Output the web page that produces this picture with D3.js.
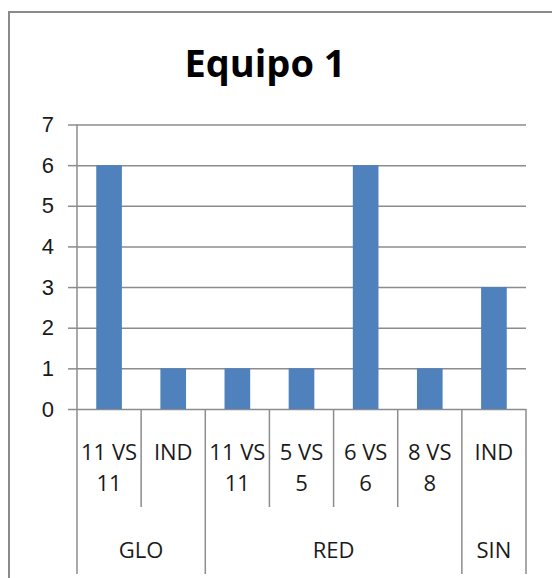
<!DOCTYPE html>
<html>
<head>
<meta charset="utf-8">
<script src="https://cdn.jsdelivr.net/npm/d3@7"></script>
<style>
  body { margin: 0; background: #fff; }
  svg { display: block; font-family: "Open Sans", sans-serif; }
</style>
</head>
<body>
<svg id="chart" width="552" height="578"></svg>
<script>
// data
const title = 'Equipo 1';
const categories = ['11 VS 11', 'IND', '11 VS 11', '5 VS 5', '6 VS 6', '8 VS 8', 'IND'];
const categoryGroup = ['GLO', 'GLO', 'RED', 'RED', 'RED', 'RED', 'SIN'];
const groups = ['GLO', 'RED', 'SIN'];
const values = [6, 1, 1, 1, 6, 1, 3];
const yTicks = [0, 1, 2, 3, 4, 5, 6, 7];

const svg = d3.select('#chart');
const gridColor = '#8c8c8c';
const barColor = '#4f81bd';

const plot = { left: 77, right: 526, top: 124.5, bottom: 409 };

const x = d3.scaleBand()
    .domain(d3.range(categories.length))
    .range([plot.left, plot.right])
    .paddingInner(0.6)
    .paddingOuter(0.3);

const y = d3.scaleLinear()
    .domain([0, 7])
    .range([plot.bottom, plot.top]);

// outer chart border (runs off the right and bottom edges)
svg.append('rect')
    .attr('x', 9).attr('y', 12)
    .attr('width', 620).attr('height', 620)
    .attr('fill', 'none')
    .attr('stroke', '#8a8a8a')
    .attr('stroke-width', 2);

svg.append('text')
    .attr('x', 265).attr('y', 77)
    .attr('text-anchor', 'middle')
    .attr('font-size', 38)
    .attr('font-weight', 'bold')
    .attr('fill', '#000')
    .text(title);

// horizontal gridlines + y ticks
const yAxis = d3.axisLeft(y)
    .tickValues(yTicks)
    .tickSize(plot.right - plot.left)
    .tickPadding(14)
    .tickFormat(d3.format('d'));

const yg = svg.append('g')
    .attr('transform', `translate(${plot.right},0)`)
    .call(yAxis);
yg.select('.domain').remove();
yg.selectAll('.tick line')
    .attr('stroke', gridColor)
    .attr('stroke-width', 1.5);
yg.selectAll('.tick text')
    .attr('x', -(plot.right - plot.left) - 23)
    .attr('font-size', 22)
    .attr('fill', '#1a1a1a');
// the little tick stubs left of the axis
yg.selectAll('.tick').append('line')
    .attr('x1', -(plot.right - plot.left) - 9)
    .attr('x2', -(plot.right - plot.left))
    .attr('stroke', gridColor)
    .attr('stroke-width', 1.5);

// bars
svg.append('g')
    .selectAll('rect')
    .data(values)
    .join('rect')
    .attr('x', (d, i) => x(i))
    .attr('y', d => y(d))
    .attr('width', x.bandwidth())
    .attr('height', d => y(0) - y(d))
    .attr('fill', barColor);

// y axis line
svg.append('line')
    .attr('x1', plot.left).attr('x2', plot.left)
    .attr('y1', plot.top).attr('y2', plot.bottom)
    .attr('stroke', gridColor).attr('stroke-width', 1.5);

// category separators below the axis
const bandEdge = i => plot.left + i * x.step();
const groupStarts = groups.map(g => categoryGroup.indexOf(g));
const groupEnds = groups.map(g => categoryGroup.lastIndexOf(g) + 1);
const groupEdges = new Set([...groupStarts, ...groupEnds]);

svg.append('g')
    .selectAll('line')
    .data(d3.range(categories.length + 1))
    .join('line')
    .attr('x1', bandEdge).attr('x2', bandEdge)
    .attr('y1', plot.bottom)
    .attr('y2', i => groupEdges.has(i) ? 574 : 507)
    .attr('stroke', gridColor)
    .attr('stroke-width', 1.5);

// category labels (two lines when "A VS B")
const labelLines = s => {
    const parts = s.split(' VS ');
    return parts.length > 1 ? [parts[0] + ' VS', parts[1]] : [s];
};

const cat = svg.append('g')
    .attr('font-size', 22)
    .attr('fill', '#1a1a1a')
    .attr('text-anchor', 'middle');

categories.forEach((c, i) => {
    const cx = x(i) + x.bandwidth() / 2;
    labelLines(c).forEach((line, k) => {
        cat.append('text')
            .attr('x', cx)
            .attr('y', 460 + k * 31)
            .text(line);
    });
});

// group labels
svg.append('g')
    .attr('font-size', 22)
    .attr('fill', '#1a1a1a')
    .attr('text-anchor', 'middle')
    .selectAll('text')
    .data(groups)
    .join('text')
    .attr('x', (g, j) => (bandEdge(groupStarts[j]) + bandEdge(groupEnds[j])) / 2)
    .attr('y', 558)
    .text(g => g);
</script>
</body>
</html>
